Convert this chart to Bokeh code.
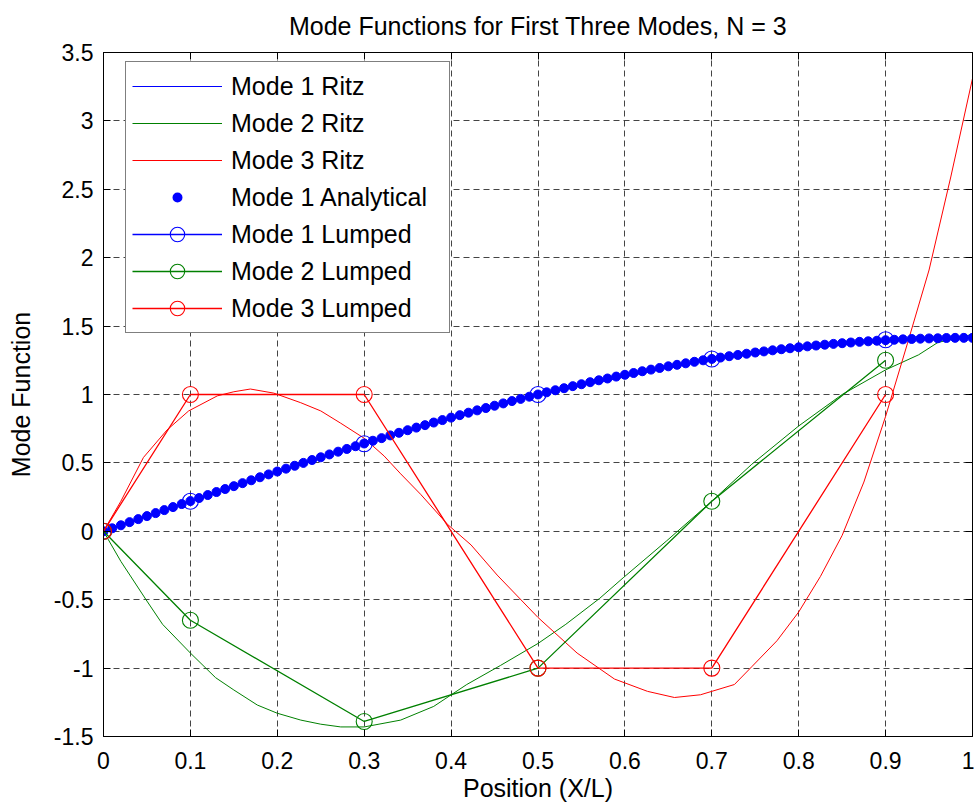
from bokeh.plotting import figure
from bokeh.models import FixedTicker, LinearAxis, Legend, LegendItem, Range1d
from bokeh.embed import file_html
from bokeh.resources import INLINE

# ---------------- data ----------------
x_ticks = [0, 0.1, 0.2, 0.3, 0.4, 0.5, 0.6, 0.7, 0.8, 0.9, 1]
x_tick_labels = ["0", "0.1", "0.2", "0.3", "0.4", "0.5", "0.6", "0.7", "0.8", "0.9", "1"]
y_ticks = [-1.5, -1, -0.5, 0, 0.5, 1, 1.5, 2, 2.5, 3, 3.5]
y_tick_labels = ["-1.5", "-1", "-0.5", "0", "0.5", "1", "1.5", "2", "2.5", "3", "3.5"]

# Mode 1 Ritz (thin blue line, mostly hidden under the analytical dots)
ritz1_x = [0, 0.05, 0.1, 0.15, 0.2, 0.25, 0.3, 0.35, 0.4, 0.45, 0.5,
           0.55, 0.6, 0.65, 0.7, 0.75, 0.8, 0.85, 0.9, 0.95, 1.0]
ritz1_y = [0, 0.111, 0.221, 0.330, 0.437, 0.541, 0.642, 0.739, 0.831, 0.918, 1.0,
           1.075, 1.144, 1.206, 1.260, 1.307, 1.345, 1.375, 1.397, 1.410, 1.414]

# Mode 2 Ritz (thin green line)
ritz2_x = [0, 0.02, 0.05, 0.068, 0.1, 0.129, 0.15, 0.177, 0.2, 0.227, 0.25, 0.273, 0.3,
           0.342, 0.38, 0.418, 0.457, 0.5, 0.532, 0.571, 0.598, 0.648, 0.7, 0.746,
           0.8, 0.85, 0.9, 0.938, 0.96, 1.0]
ritz2_y = [0, -0.22, -0.51, -0.68, -0.89, -1.07, -1.16, -1.27, -1.33, -1.38, -1.41, -1.43, -1.43,
           -1.38, -1.28, -1.12, -0.98, -0.82, -0.68, -0.49, -0.34, -0.07, 0.22, 0.49,
           0.77, 1.0, 1.18, 1.29, 1.38, 1.44]

# Mode 3 Ritz (thin red line)
ritz3_x = [0, 0.02, 0.046, 0.073, 0.098, 0.131, 0.15, 0.169, 0.196, 0.227, 0.25, 0.273, 0.3,
           0.323, 0.342, 0.365, 0.396, 0.423, 0.453, 0.5, 0.545, 0.588, 0.626, 0.657, 0.687,
           0.726, 0.746, 0.775, 0.8, 0.825, 0.85, 0.875, 0.9, 0.925, 0.95, 0.975, 1.0]
ritz3_y = [0, 0.22, 0.54, 0.74, 0.88, 0.99, 1.02, 1.04, 1.01, 0.94, 0.88, 0.79, 0.68,
           0.55, 0.42, 0.27, 0.05, -0.10, -0.32, -0.63, -0.89, -1.08, -1.17, -1.215, -1.195,
           -1.12, -0.99, -0.80, -0.59, -0.33, -0.03, 0.36, 0.84, 1.37, 1.91, 2.59, 3.31]

# Mode 1 Analytical (filled blue dots)
anal_x = [i / 100 for i in range(101)]
anal_y = [0.000, 0.022, 0.044, 0.067, 0.089, 0.111, 0.133, 0.155, 0.177, 0.199,
          0.221, 0.243, 0.265, 0.287, 0.309, 0.330, 0.352, 0.373, 0.395, 0.416,
          0.437, 0.458, 0.479, 0.500, 0.521, 0.541, 0.562, 0.582, 0.602, 0.622,
          0.642, 0.662, 0.681, 0.701, 0.720, 0.739, 0.758, 0.776, 0.795, 0.813,
          0.831, 0.849, 0.867, 0.884, 0.901, 0.918, 0.935, 0.952, 0.968, 0.984,
          1.000, 1.016, 1.031, 1.046, 1.061, 1.075, 1.090, 1.104, 1.117, 1.131,
          1.144, 1.157, 1.170, 1.182, 1.194, 1.206, 1.217, 1.228, 1.239, 1.250,
          1.260, 1.270, 1.280, 1.289, 1.298, 1.307, 1.315, 1.323, 1.331, 1.338,
          1.345, 1.352, 1.358, 1.364, 1.370, 1.375, 1.380, 1.385, 1.389, 1.393,
          1.397, 1.400, 1.403, 1.406, 1.408, 1.410, 1.411, 1.413, 1.414, 1.414,
          1.414]

# Lumped mass results
lump_x = [0, 0.1, 0.3, 0.5, 0.7, 0.9]
lump1_y = [0, 0.22, 0.64, 1.0, 1.26, 1.40]
lump2_y = [0, -0.65, -1.39, -1.0, 0.22, 1.25]
lump3_y = [0, 1.0, 1.0, -1.0, -1.0, 1.0]

series_labels = ["Mode 1 Ritz", "Mode 2 Ritz", "Mode 3 Ritz", "Mode 1 Analytical",
                 "Mode 1 Lumped", "Mode 2 Lumped", "Mode 3 Lumped"]

BLUE = "#0000FF"
GREEN = "#008000"
RED = "#FF0000"
FONT = "Liberation Sans"

# ---------------- figure ----------------
p = figure(width=974, height=806, output_backend="svg", toolbar_location=None,
           x_range=Range1d(0, 1), y_range=Range1d(-1.5, 3.5),
           min_border_left=103, min_border_right=2, min_border_top=52, min_border_bottom=70,
           title="Mode Functions for First Three Modes, N = 3")

p.background_fill_color = "white"
p.border_fill_color = "white"
p.outline_line_color = "black"
p.outline_line_width = 1

p.title.align = "center"
p.title.vertical_align = "top"
p.title.text_font = FONT
p.title.text_font_size = "25px"
p.title.text_font_style = "normal"
p.title.text_color = "black"
p.title.standoff = 21

for ax, ticks, labels in ((p.xaxis[0], x_ticks, x_tick_labels), (p.yaxis[0], y_ticks, y_tick_labels)):
    ax.ticker = FixedTicker(ticks=ticks)
    ax.major_label_overrides = {t: l for t, l in zip(ticks, labels)}
    ax.major_tick_in = 7
    ax.major_tick_out = 0
    ax.minor_tick_in = 0
    ax.minor_tick_out = 0
    ax.axis_line_color = "black"
    ax.major_tick_line_color = "black"
    ax.major_label_text_font = FONT
    ax.major_label_text_font_size = "23px"
    ax.major_label_text_color = "black"
    ax.axis_label_text_font = FONT
    ax.axis_label_text_font_size = "25px"
    ax.axis_label_text_font_style = "normal"
    ax.axis_label_text_color = "black"

p.xaxis[0].axis_label = "Position (X/L)"
p.xaxis[0].major_label_standoff = 15
p.xaxis[0].axis_label_standoff = 2
p.yaxis[0].axis_label = "Mode Function"
p.yaxis[0].major_label_standoff = 10
p.yaxis[0].axis_label_standoff = 16

# mirrored ticks on top and right
top_ax = LinearAxis(ticker=FixedTicker(ticks=x_ticks), major_tick_in=7, major_tick_out=0,
                    minor_tick_in=0, minor_tick_out=0, major_label_text_font_size="0px",
                    major_label_standoff=0, axis_line_color="black")
right_ax = LinearAxis(ticker=FixedTicker(ticks=y_ticks), major_tick_in=7, major_tick_out=0,
                      minor_tick_in=0, minor_tick_out=0, major_label_text_font_size="0px",
                      major_label_standoff=0, axis_line_color="black")
p.add_layout(top_ax, "above")
p.add_layout(right_ax, "right")

p.xgrid[0].ticker = FixedTicker(ticks=x_ticks)
p.ygrid[0].ticker = FixedTicker(ticks=y_ticks)
for g in (p.xgrid[0], p.ygrid[0]):
    g.grid_line_color = "#303030"
    g.grid_line_alpha = 0.9
    g.grid_line_dash = "6 4"
    g.grid_line_width = 1

# ---------------- glyphs ----------------
r1 = p.line(ritz1_x, ritz1_y, line_color=BLUE, line_width=1)
r2 = p.line(ritz2_x, ritz2_y, line_color=GREEN, line_width=1)
r3 = p.line(ritz3_x, ritz3_y, line_color=RED, line_width=1)
ra = p.scatter(anal_x, anal_y, marker="circle", size=9, fill_color=BLUE, line_color=BLUE)

l1 = p.line(lump_x, lump1_y, line_color=BLUE, line_width=1.3)
c1 = p.scatter(lump_x, lump1_y, marker="circle", size=16, fill_color=None, line_color=BLUE, line_width=1.1)
l2 = p.line(lump_x, lump2_y, line_color=GREEN, line_width=1.3)
c2 = p.scatter(lump_x, lump2_y, marker="circle", size=16, fill_color=None, line_color=GREEN, line_width=1.1)
l3 = p.line(lump_x, lump3_y, line_color=RED, line_width=1.3)
c3 = p.scatter(lump_x, lump3_y, marker="circle", size=16, fill_color=None, line_color=RED, line_width=1.1)

# legend-only twins (hidden in the plot): coloured Ritz lines, smaller analytical dot
lg_r1 = p.line(ritz1_x, ritz1_y, line_color=BLUE, line_width=1.2, visible=False)
lg_r2 = p.line(ritz2_x, ritz2_y, line_color=GREEN, line_width=1.2, visible=False)
lg_r3 = p.line(ritz3_x, ritz3_y, line_color=RED, line_width=1.2, visible=False)
lg_d1 = p.scatter(ritz1_x, ritz1_y, marker="circle", size=1, fill_alpha=0, line_alpha=0, visible=False)
lg_d2 = p.scatter(ritz2_x, ritz2_y, marker="circle", size=1, fill_alpha=0, line_alpha=0, visible=False)
lg_d3 = p.scatter(ritz3_x, ritz3_y, marker="circle", size=1, fill_alpha=0, line_alpha=0, visible=False)
lg_ra = p.scatter(anal_x, anal_y, marker="circle", size=9, fill_color=BLUE,
                  line_color="white", line_width=4.4, visible=False)

legend = Legend(items=[
    LegendItem(label=series_labels[0], renderers=[lg_r1, lg_d1]),
    LegendItem(label=series_labels[1], renderers=[lg_r2, lg_d2]),
    LegendItem(label=series_labels[2], renderers=[lg_r3, lg_d3]),
    LegendItem(label=series_labels[3], renderers=[lg_ra]),
    LegendItem(label=series_labels[4], renderers=[l1, c1]),
    LegendItem(label=series_labels[5], renderers=[l2, c2]),
    LegendItem(label=series_labels[6], renderers=[l3, c3]),
], location=(22, 403), margin=0, padding=6, spacing=1,
    glyph_width=90, glyph_height=36, label_height=36, label_width=212, label_standoff=9,
    label_text_font=FONT, label_text_font_size="25px", label_text_color="black",
    border_line_color="black", border_line_width=1, background_fill_color="white",
    background_fill_alpha=1.0)
p.add_layout(legend)

open("out.html", "w").write(file_html(p, INLINE))
